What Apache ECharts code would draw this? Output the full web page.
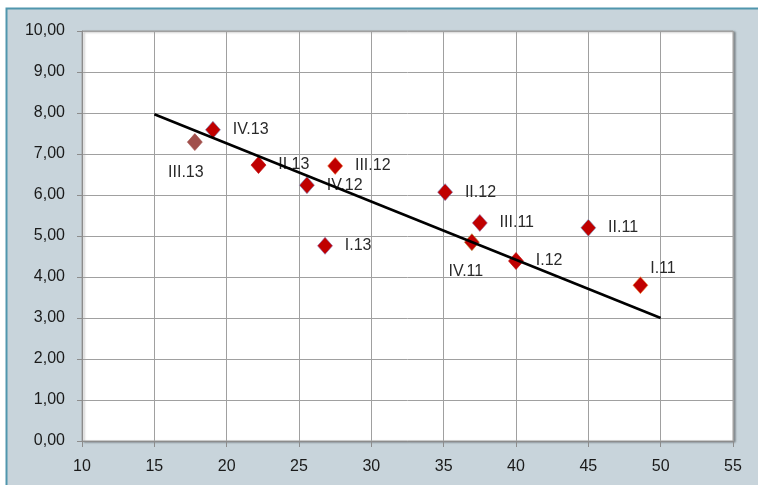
<!DOCTYPE html>
<html>
<head>
<meta charset="utf-8">
<script src="https://cdn.jsdelivr.net/npm/echarts@6/dist/echarts.min.js"></script>
<style>
  html, body { margin: 0; padding: 0; background: #fff; }
  #chart { width: 758px; height: 485px; }
</style>
</head>
<body>
<div id="chart"></div>
<script>
// quarters, x and y
const names = ['III.13', 'IV.13', 'II.13', 'III.12', 'IV.12', 'I.13', 'II.12', 'III.11', 'IV.11', 'I.12', 'II.11', 'I.11'];
const xs = [17.8, 19.05, 22.2, 27.5, 25.55, 26.8, 35.1, 37.5, 36.95, 40.0, 45.0, 48.6];
const ys = [7.29, 7.59, 6.73, 6.71, 6.24, 4.76, 6.07, 5.32, 4.85, 4.39, 5.20, 3.80];
const trendX = [15, 50];
const trendY = [7.97, 3.0];

// marker look per point (not data)
const fill = { 'III.13': '#a14f4b' };
const edge = {
  'IV.13': '#6f8fc8', 'IV.12': '#6f8fc8', 'II.12': '#7a7fc0', 'II.11': '#70a8d0',
  'III.11': '#9a6aa8', 'I.13': '#8a6ab0', 'IV.11': '#b0a040', 'I.11': '#f5903a',
  'III.12': '#f07030'
};
const labelPos = {
  'III.13': { position: 'bottom', distance: 14, offset: [-9, 0] },
  'IV.11': { position: 'bottom', distance: 13, offset: [-6, 0] },
  'I.11': { position: 'right', distance: 2, offset: [0, -17] }
};

const points = names.map((n, i) => ({
  name: n,
  value: [xs[i], ys[i]],
  itemStyle: {
    color: fill[n] || '#c00000',
    borderColor: edge[n] || fill[n] || '#c00000',
    borderWidth: 0.6,
    opacity: 1
  },
  label: labelPos[n] || {}
}));

const chart = echarts.init(document.getElementById('chart'));
const font = 'Liberation Sans';
const fmt = v => v.toFixed(2).replace('.', ',');

chart.setOption({
  animation: false,
  textStyle: { fontFamily: font },
  graphic: [{
    type: 'rect',
    z: -10,
    shape: { x: 6.5, y: 8.5, width: 800, height: 500 },
    style: { fill: '#c8d4db', stroke: '#5096ad', lineWidth: 2 }
  }],
  grid: {
    left: 82, right: 25, top: 31, bottom: 44,
    show: true, backgroundColor: '#fff', borderColor: '#a0a0a0', borderWidth: 1,
    shadowColor: 'rgba(0,0,0,0.35)', shadowBlur: 2, shadowOffsetX: 2, shadowOffsetY: 1
  },
  xAxis: {
    type: 'value', min: 10, max: 55, interval: 5,
    axisLine: { lineStyle: { color: '#8c8c8c' } },
    axisTick: { show: true, inside: false, length: 6, lineStyle: { color: '#8c8c8c' } },
    axisLabel: { color: '#1a1a1a', fontSize: 16, fontFamily: font, margin: 18 },
    splitLine: { lineStyle: { color: '#a0a0a0', width: 1 } }
  },
  yAxis: {
    type: 'value', min: 0, max: 10, interval: 1,
    axisLine: { show: true, lineStyle: { color: '#8c8c8c' } },
    axisTick: { show: true, inside: false, length: 5, lineStyle: { color: '#8c8c8c' } },
    axisLabel: { color: '#1a1a1a', fontSize: 16, fontFamily: font, margin: 17, formatter: fmt },
    splitLine: { lineStyle: { color: '#a0a0a0', width: 1 } }
  },
  series: [
    {
      type: 'line',
      data: trendX.map((x, i) => [x, trendY[i]]),
      showSymbol: false,
      symbol: 'none',
      lineStyle: { color: '#000', width: 2.5 },
      z: 3
    },
    {
      type: 'scatter',
      symbol: 'diamond',
      symbolSize: [15, 17],
      data: points,
      z: 2,
      itemStyle: { opacity: 1 },
      label: {
        show: true,
        position: 'right',
        distance: 12,
        formatter: p => p.name,
        color: '#2a2a2a',
        fontSize: 16,
        fontFamily: font
      }
    }
  ]
});
</script>
</body>
</html>
